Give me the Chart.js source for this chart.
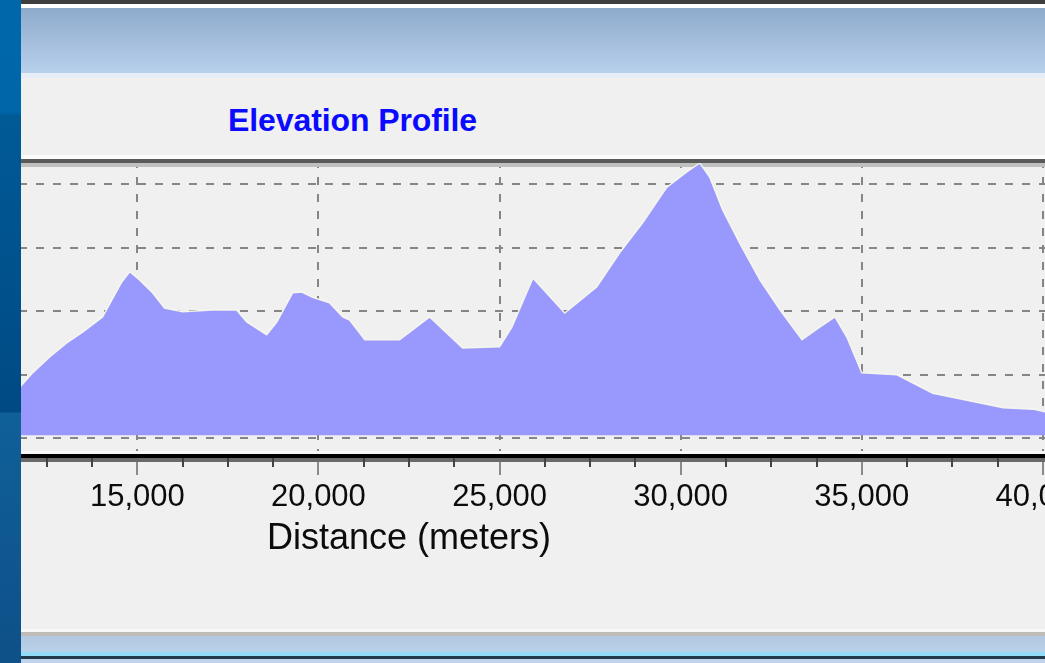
<!DOCTYPE html>
<html>
<head>
<meta charset="utf-8">
<title>Elevation Profile</title>
<script src="https://cdn.jsdelivr.net/npm/chart.js@4.4.0/dist/chart.umd.min.js"></script>
<style>
  body { margin: 0; width: 1045px; height: 663px; overflow: hidden; position: relative; background: #f0f0f0; font-family: "Liberation Sans", Arial, sans-serif; }
  .band { position: absolute; left: 0; width: 1045px; }
  #strip { position: absolute; left: 0; top: 0; width: 21px; height: 663px; z-index: 5;
    background: linear-gradient(#0067ab 0, #0066aa 112px, #005a96 116px, #004a84 412px, #106099 413px, #0e5088 663px); }
  #title { position: absolute; left: 228px; top: 104px; font: bold 32px "Liberation Sans", Arial, sans-serif; line-height: 32px; color: #0a0aff; white-space: nowrap; letter-spacing: -0.1px; }
  #c { position: absolute; left: -436px; top: 150px; }
</style>
</head>
<body>
<div class="band" style="top:0;height:4px;background:#3e3e3e"></div>
<div class="band" style="top:4px;height:4px;background:#ffffff"></div>
<div class="band" style="top:8px;height:65px;background:linear-gradient(#8eaacb,#b8d0ec)"></div>
<div class="band" style="top:73px;height:5px;background:#e6edf7"></div>
<div class="band" style="top:629px;height:3px;background:#f8f8f8"></div>
<div class="band" style="top:632px;height:4px;background:#bfbbb7"></div>
<div class="band" style="top:636px;height:16px;background:linear-gradient(#b0c8e0,#b8d0e8)"></div>
<div class="band" style="top:652px;height:4px;background:#90dcf8"></div>
<div class="band" style="top:656px;height:3px;background:#203c4c"></div>
<div class="band" style="top:659px;height:4px;background:#c0d2ec"></div>
<div id="strip"></div>
<div id="title">Elevation Profile</div>
<canvas id="c" width="1720" height="480"></canvas>
<script>
// distance along the profile (meters) and elevation
const distance  = [11200, 11780, 12110, 12580, 13050, 13490, 14040, 14570, 14790, 15060,
                   15420, 15750, 16250, 17080, 17740, 18020, 18570, 18850, 19290, 19540,
                   19840, 20310, 20670, 20860, 21280, 22240, 23070, 23980, 25000, 25340,
                   25920, 26800, 27680, 28320, 28950, 29620, 30170, 30530, 30800, 31160,
                   31630, 32190, 32740, 33350, 33840, 34260, 34590, 35000, 35970, 36960,
                   37900, 38900, 39720, 40060, 40700]
const elevation = [46, 82, 103, 128, 150, 167, 191, 246, 262, 249,
                   229, 205, 199, 202, 202, 183, 163, 183, 229, 230,
                   222, 213, 191, 186, 155, 155, 191, 142, 144, 175,
                   252, 197, 238, 292, 339, 395, 419, 433, 411, 359,
                   307, 249, 202, 155, 175, 191, 159, 103, 100, 71,
                   60, 48, 46, 42, 40]
const xTickStep = 5000
const xMinorStep = 1250
const yGridStep = 100

let points = distance.map((d, i) => ({ x: d, y: elevation[i] }))

// frame lines and minor ticks of the old chart control
const frame = {
    id: 'frame',
    beforeDatasetsDraw(chart) {
        const { ctx, chartArea: a } = chart
        ctx.save()
        ctx.fillStyle = '#fbfbfb'
        ctx.fillRect(a.left, a.top - 5, a.right - a.left, 4)
        ctx.fillStyle = '#bfbfbf'
        ctx.fillRect(a.left, a.top + 3, a.right - a.left, 4)
        ctx.restore()
    },
    afterDraw(chart) {
        const { ctx, chartArea: a, scales: { x } } = chart
        ctx.save()
        ctx.fillStyle = '#5a5a5a'
        ctx.fillRect(a.left, a.top - 1, a.right - a.left, 4)
        ctx.fillStyle = '#f8f8f8'
        ctx.fillRect(a.left, a.bottom - 5, a.right - a.left, 3)
        ctx.fillStyle = '#000000'
        ctx.fillRect(a.left, a.bottom - 2, a.right - a.left, 4)
        ctx.fillStyle = '#6a6a6a'
        ctx.fillRect(a.left, a.bottom + 2, a.right - a.left, 4)
        ctx.strokeStyle = '#444'
        ctx.lineWidth = 2
        for (let v = x.min; v <= x.max; v += xMinorStep) {
            if (v % xTickStep === 0) continue
            let px = Math.round(x.getPixelForValue(v))
            ctx.beginPath()
            ctx.moveTo(px, a.bottom + 2)
            ctx.lineTo(px, a.bottom + 11)
            ctx.stroke()
        }
        ctx.restore()
    }
}

let chart = new Chart(document.querySelector('#c'), {
    type: 'line',
    data: {
        datasets: [{
            data: points,
            backgroundColor: '#9999fd',
            borderColor: 'rgba(250,250,236,0.9)',
            borderWidth: 1.5,
            fill: { value: 5 },
            pointRadius: 0,
            tension: 0
        }]
    },
    options: {
        responsive: false,
        animation: false,
        layout: { padding: { left: 30, right: 60, top: 10, bottom: 0 } },
        plugins: {
            legend: { display: false },
            tooltip: { enabled: false }
        },
        scales: {
            x: {
                type: 'linear',
                min: 0,
                max: 45000,
                ticks: {
                    stepSize: xTickStep,
                    includeBounds: false,
                    autoSkip: false,
                    maxRotation: 0,
                    padding: 4,
                    color: '#0c0c0c',
                    font: { family: '"Liberation Sans", Arial, sans-serif', size: 31 },
                    callback: v => v.toLocaleString('en-US')
                },
                grid: { color: '#858585', lineWidth: 2, tickLength: 19, tickColor: '#8a8a8a', tickWidth: 2 },
                border: { display: false, dash: [8, 9] },
                title: {
                    display: true,
                    text: 'Distance (meters)',
                    color: '#0c0c0c',
                    font: { family: '"Liberation Sans", Arial, sans-serif', size: 36 },
                    padding: { top: 0, bottom: 69 }
                },
                afterFit: s => { s.height = 174 }
            },
            y: {
                min: -27.7,
                max: 437.7,
                ticks: { display: false, stepSize: yGridStep, includeBounds: false },
                grid: { color: '#858585', lineWidth: 2, drawTicks: false },
                border: { display: false, dash: [8, 9] },
                afterFit: s => { s.width = 0 }
            }
        }
    },
    plugins: [frame]
})
</script>
</body>
</html>
